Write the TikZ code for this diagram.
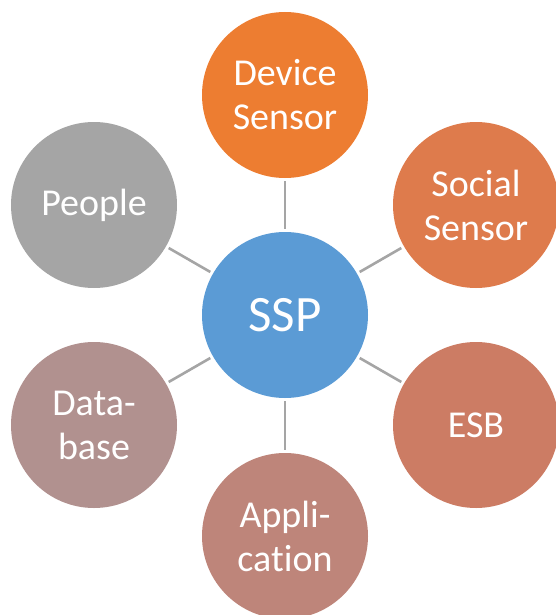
\documentclass[tikz,border=0pt]{standalone}
\usepackage{fontspec}
\setmainfont{Carlito}[Ligatures={NoCommon}]
\definecolor{cssp}{HTML}{5B9BD5}
\definecolor{cdev}{HTML}{ED7D31}
\definecolor{csoc}{HTML}{DE7B4C}
\definecolor{cesb}{HTML}{CC7C64}
\definecolor{capp}{HTML}{BE857A}
\definecolor{cdb}{HTML}{B1918F}
\definecolor{cppl}{HTML}{A5A5A5}
\definecolor{cline}{HTML}{A5A5A5}
\begin{document}
\begin{tikzpicture}[x=1pt,y=1pt,
  bubble/.style={circle,minimum size=166pt,inner sep=0pt,text=white,align=center,
    font=\fontsize{38}{44}\selectfont},
  hub/.style={bubble,font=\fontsize{51}{60}\selectfont},
  conn/.style={draw=cline,line width=2.6pt,shorten >=3pt,shorten <=3pt}]
\useasboundingbox (0,0) rectangle (556,-615);
\node[hub,fill=cssp] (ssp) at (285,-315) {SSP};
\node[bubble,fill=cdev] (dev) at (285,-95) {Device\\Sensor};
\node[bubble,fill=csoc] (soc) at (476,-205) {Social\\Sensor};
\node[bubble,fill=cesb] (esb) at (476,-425) {ESB};
\node[bubble,fill=capp] (app) at (285,-536) {Appli-\\cation};
\node[bubble,fill=cdb] (db) at (94,-425) {Data-\\base};
\node[bubble,fill=cppl] (ppl) at (94,-205) {People};
\foreach \n in {dev,soc,esb,app,db,ppl}{\draw[conn] (ssp) -- (\n);}
\end{tikzpicture}
\end{document}
